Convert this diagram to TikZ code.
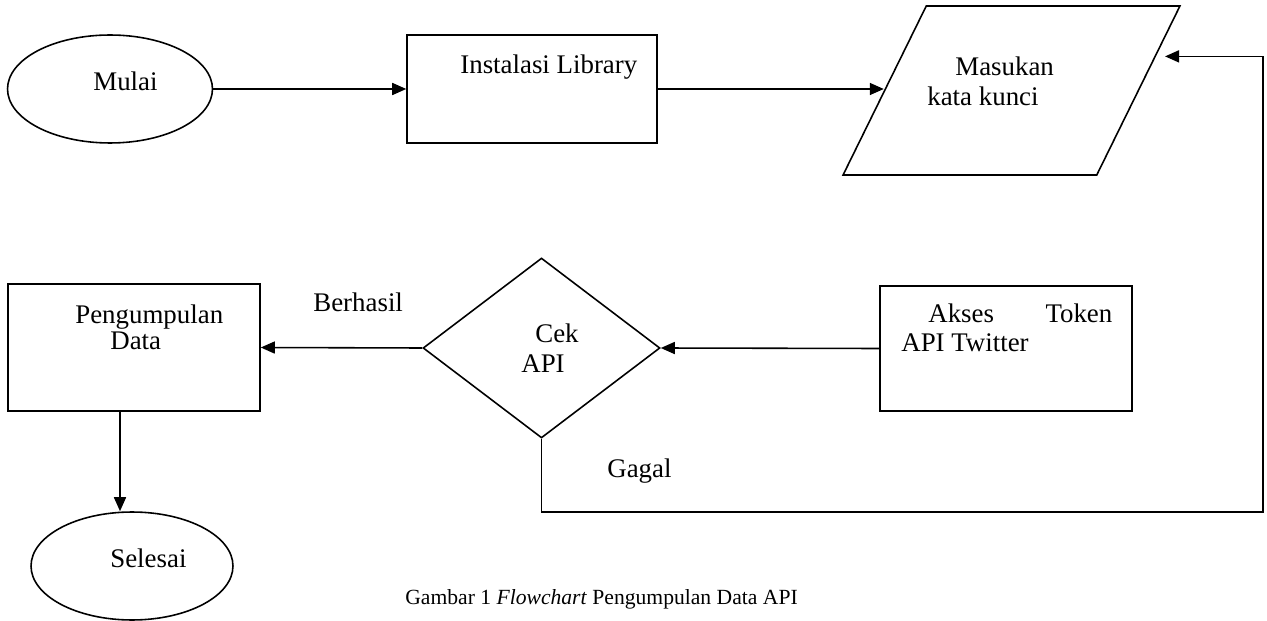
\documentclass[tikz,border=0pt]{standalone}
\usepackage{fontspec}
\setmainfont{Liberation Serif}
\usetikzlibrary{arrows.meta,shapes.geometric,calc}

\begin{document}
\begin{tikzpicture}[
    x=0.02cm, y=-0.02cm,
    every node/.style={font=\fontsize{15.3}{17}\selectfont},
    shapebox/.style={draw, line width=0.9pt, inner sep=0pt},
    oval/.style={shapebox, ellipse, minimum width=4.1cm, minimum height=2.16cm},
    procbox/.style={shapebox, rectangle, minimum width=5.04cm, minimum height=2.54cm},
    iobox/.style={shapebox, inner sep=2pt, trapezium, trapezium left angle=64, trapezium right angle=116, trapezium stretches=true, minimum width=6.74cm, minimum height=3.38cm},
    decision/.style={shapebox, diamond, minimum width=4.74cm, minimum height=3.6cm},
    txt/.style={inner sep=0pt, anchor=base west},
    arrow/.style={-{Triangle[length=0.28cm, width=0.24cm]}, line width=0.9pt}
]
\useasboundingbox (0,0) rectangle (1267,621);

\node[oval] (mulai) at (110,89) {};
\node[procbox, minimum width=5cm, minimum height=2.16cm] (inst) at (532,89) {};
\node[iobox] (masuk) at (1011.5,90.5) {};
\node[procbox] (kumpul) at (134,347.5) {};
\node[decision] (cek) at (541.5,348) {};
\node[procbox, minimum height=2.5cm] (akses) at (1006,348.5) {};
\node[oval, minimum width=4.04cm] (selesai) at (132,566) {};

\node[txt] (mulai-t) at (93,91) {Mulai};
\node[txt] (inst-t) at (460,74) {Instalasi Library};
\node[txt] (masuk-t1) at (955,76) {Masukan};
\node[txt] (masuk-t2) at (927,106) {kata kunci};
\node[txt] (kumpul-t1) at (75,324) {Pengumpulan};
\node[txt] (kumpul-t2) at (110,350) {Data};
\node[txt] (cek-t1) at (535,342) {Cek};
\node[txt] (cek-t2) at (521,372) {API};
\node[txt, text width=3.68cm, align=left] (akses-t1) at (928,322) {Akses\hfill Token};
\node[txt] (akses-t2) at (901,352) {API Twitter};
\node[txt] (selesai-t) at (110,567) {Selesai};
\node[txt] (berhasil) at (313,312) {Berhasil};
\node[txt] (gagal) at (607,477) {Gagal};
\node[txt, font=\fontsize{12.3}{14}\selectfont] (caption) at (405,604) {Gambar 1 \textit{Flowchart} Pengumpulan Data API};

\coordinate (loop) at (1263,512);

\draw[arrow] (mulai.east) -- (inst.west);
\draw[arrow] (inst.east) -- (inst.east -| masuk.west);
\draw[arrow] (akses.west) -- (cek.east);
\draw[arrow] (cek.west) -- (kumpul.east);
\draw[arrow] ([xshift=-0.28cm]kumpul.south) -- ([xshift=-0.28cm]kumpul.south |- selesai.north);
\draw[arrow] (cek.south) |- (loop) |- ($(masuk.top right corner)!0.3!(masuk.bottom right corner) + (0.18cm,0)$);
\end{tikzpicture}
\end{document}
